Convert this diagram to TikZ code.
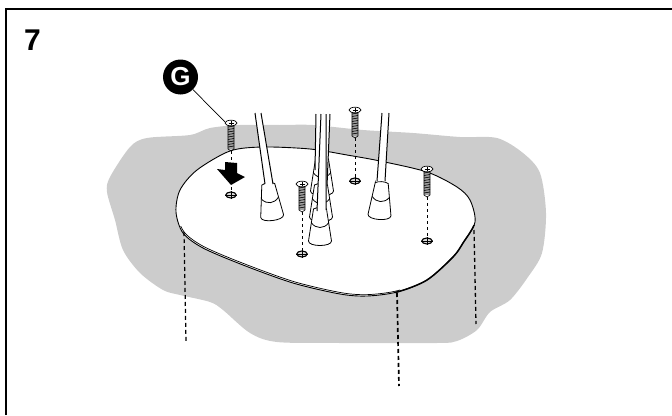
\documentclass[tikz,border=0pt]{standalone}
\usepackage{fontspec}
\setmainfont{Liberation Sans}
\usetikzlibrary{shapes.geometric}
\definecolor{floorgray}{HTML}{CCCCCC}
\def\platecoords{(176,212) (180,190) (197,170)
  (230,151) (263,147) (310,149) (347,155) (380,161) (427,172) (457,187) (470,200) (475,222)
  (463,243) (453,257) (427,280) (397,292) (367,296) (340,294) (293,283) (243,265) (203,248)
  (183,233)}
\tikzset{
  framerule/.style={line width=2.3pt,line cap=butt},
  platerule/.style={line width=.9pt,line join=round},
  guideline/.style={line width=.7pt,dash pattern=on 3pt off 3pt},
  legline/.style={dash pattern=on 4pt off 3pt},
  holemark/.style={draw,ellipse,line width=1.1pt,fill=gray!30,minimum width=10.5pt,minimum height=6pt,inner sep=0pt},
  calloutdisc/.style={circle,fill=black,text=white,minimum size=35pt,inner sep=0pt,font=\bfseries\fontsize{26}{26}\selectfont},
}
\begin{document}
\begin{tikzpicture}[x=1pt,y=-1pt,
  pics/foot/.style={code={
    \draw[fill=white,line width=.8pt] (-6.5,-39) -- (-11.5,-7)
      .. controls (-11.5,-1) and (11.5,-1) .. (11.5,-7) -- (6.5,-39)
      .. controls (3,-41) and (-3,-41) .. cycle;
    \draw[line width=.8pt] (-8.5,-25) .. controls (-4,-19) and (4,-19) .. (8.5,-25);
  }},
  pics/screw/.style={code={
    \fill[gray!75] (-3,2) rectangle (3,26);
    \draw[line width=.6pt] (-3,2) -- (-3,26) -- (0,28) -- (3,26) -- (3,2);
    \draw[line width=.6pt] foreach \yy in {4,6.5,...,25} {(-3,\yy) -- (3,\yy-1)};
    \draw[fill=white,line width=.7pt] (0,0) ellipse (6 and 2.8);
    \draw[line width=.5pt] (-2.5,0) -- (2.5,0) (0,-1.6) -- (0,1.6);
    \coordinate (-tip) at (0,28);
  }}]
\useasboundingbox (0,0) rectangle (672,415);
\fill[floorgray] plot[smooth cycle] coordinates {(107,192) (110,177) (130,147) (147,138)
  (190,135) (210,128) (240,125) (280,125) (313,125) (363,130) (413,133) (460,137) (497,138)
  (523,153) (540,173) (546,213) (542,253) (528,277) (510,300) (490,312) (477,330) (457,341)
  (437,343) (340,343) (277,342) (250,333) (223,310) (210,302) (180,295) (163,290) (140,273)
  (123,250) (115,220)};
\draw[platerule,fill=white] plot[smooth cycle] coordinates {\platecoords};
\begin{scope}
  \clip (178,226) rectangle (400,300);
  \draw[line width=.7pt,xshift=.8pt,yshift=1.4pt] plot[smooth cycle] coordinates {\platecoords};
\end{scope}
\begin{scope}
  \clip (395,225) rectangle (480,300);
  \draw[line width=1.5pt] plot[smooth cycle] coordinates {\platecoords};
\end{scope}

\draw[legline,line width=1.2pt] (184,232) -- (186,342);
\draw[legline,line width=1.7pt] (397,293) -- (399,386);
\draw[legline,line width=1.3pt] (474,230) -- (476,324);

\pic at (322,198) {foot};
\pic at (321,224) {foot};
\pic at (273,223) [rotate=7] {foot};
\pic at (379,222) [rotate=-4] {foot};
\foreach \xa/\xb/\xc/\xd/\ya/\yb in {255/261/265/273/113/184,382/389/377/385/113/181,
    316/322/315/322/114/170,324/330/320/327/114/186} {
  \fill[white] (\xa,\ya) -- (\xb,\ya) -- (\xd,\yb) -- (\xc,\yb) -- cycle;
  \draw[line width=1pt] (\xa,\ya) -- (\xc,\yb) (\xb,\ya) -- (\xd,\yb);
}
\pic at (320,248) {foot};
\fill[white] (321,114) -- (326,114) -- (326,212) -- (317,212) -- cycle;
\draw[line width=1pt] (321,114) -- (317,211) (326,114) -- (326,210);

\foreach \sname/\xs/\ys/\yh in {a/231/123/195,b/302/184/254,c/355/110/181,d/427/169/241} {
  \pic (screw\sname) at (\xs,\ys) {screw};
  \node[holemark] (hole\sname) at (\xs,\yh) {};
  \draw[line width=.4pt] (hole\sname.west) -- (hole\sname.east) (hole\sname.north) -- (hole\sname.south);
  \draw[guideline] (screw\sname-tip) -- (hole\sname);
}

\fill[black] (225,162) -- (237,163) -- (237,173) -- (245,177) -- (231,185) -- (217,169) -- (225,170) -- cycle;

\node[calloutdisc] (calloutG) at (180.5,77) {G};
\coordinate (leaderend) at (225,122);
\draw[line width=.7pt] (calloutG) -- (leaderend);

\node[anchor=base west,inner sep=0pt,font=\bfseries\fontsize{30}{32}\selectfont] (stepnum) at (24,50) {7};
\draw[framerule] (6,415) -- (6,9) -- (672,9);
\end{tikzpicture}
\end{document}
